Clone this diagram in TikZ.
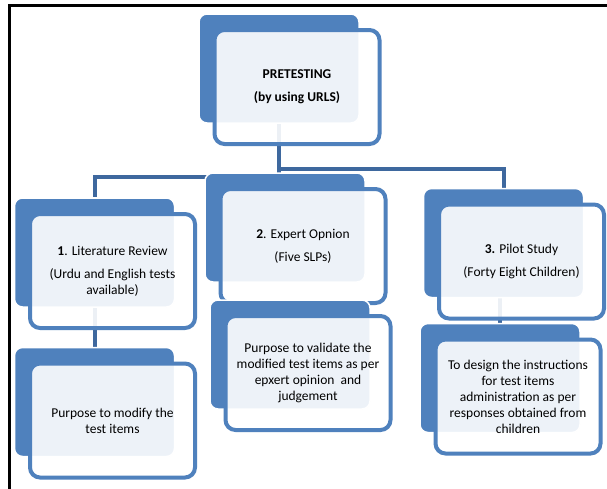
\documentclass[tikz,border=0pt]{standalone}
\usepackage{fontspec}
\setmainfont{Carlito}
\usetikzlibrary{calc}
\definecolor{accent}{RGB}{79,129,189}
\definecolor{linkblue}{RGB}{62,104,158}
\pgfdeclarelayer{background}
\pgfsetlayers{background,main}

\begin{document}
\begin{tikzpicture}[
  x=1pt,y=1pt,
  cardback/.style={fill=accent,draw=white,line width=1.5pt,rounded corners=8pt,minimum width=160pt,minimum height=109pt,inner sep=0pt},
  cardfront/.style={draw=accent,line width=4pt,fill=white,fill opacity=0.9,text opacity=1,rounded corners=10pt,minimum width=165pt,minimum height=114pt,align=center,inner sep=2pt,font=\fontsize{13.5}{16}\selectfont},
  link/.style={draw=linkblue,line width=4pt}
]
\useasboundingbox (0,0) rectangle (607,-488);
% top
\node[cardback] (pre) at (279,-68.5) {};
\node[cardfront] (pretext) at ($(pre)+(18,-18.5)$) {\textbf{PRETESTING}\\[7pt]\textbf{(by using URLS)}};
% first column
\node[cardback] (lit) at (94.5,-252.5) {};
\node[cardfront] (littext) at ($(lit)+(18,-18.5)$) {\textbf{1}. Literature Review\\[7pt](Urdu and English tests\\available)};
\node[cardback] (litd) at (94.5,-402) {};
\node[cardfront] (litdtext) at ($(litd)+(18,-18.5)$) {Purpose to modify the\\test items};
% second column
\node[cardback] (exp) at (285,-227.5) {};
\node[cardfront] (exptext) at ($(exp)+(18,-18.5)$) {\textbf{2}. Expert Opnion\\[7pt](Five SLPs)};
\node[cardback] (expd) at (290,-354.5) {};
\node[cardfront] (expdtext) at ($(expd)+(18,-18.5)$) {Purpose to validate the\\modified test items as per\\epxert opinion~ and\\judgement};
% third column
\node[cardback] (pil) at (503.5,-243) {};
\node[cardfront] (piltext) at ($(pil)+(18,-18.5)$) {\textbf{3.} Pilot Study\\[7pt](Forty Eight Children)};
\node[cardback] (pild) at (500,-378) {};
\node[cardfront] (pildtext) at ($(pild)+(18,-18.5)$) {To design the instructions\\for test items\\administration as per\\responses obtained from\\children};

\begin{pgfonlayer}{background}
\fill[white] (0,0) rectangle (607,-488);
\draw[link] (pre.center) |- ($(lit.north)+(0,20)$) -- (lit.north);
\draw[link] (pre.center) |- ($(pil.north)+(0,19)$) -- (pil.north);
\draw[link] (pre.center) -- (pre.center |- exp.north);
\draw[link] (lit.center) -- (litd.center);
\draw[link] (pild.center |- pil.center) -- (pild.center);
\end{pgfonlayer}

% frame
\draw[line width=2.5pt] (9.7,-490) -- (9.7,-5.3) -- (610,-5.3);
\end{tikzpicture}
\end{document}
